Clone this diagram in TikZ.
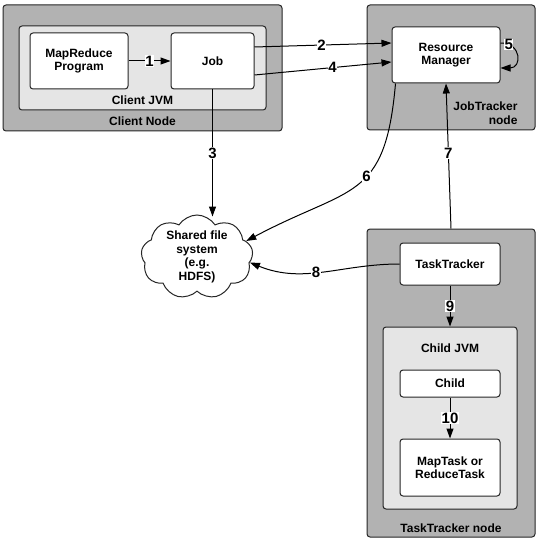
\documentclass[tikz,border=0pt]{standalone}
\usepackage{fontspec}
\setmainfont{Liberation Sans}
\usetikzlibrary{arrows.meta,shapes.symbols}
\begin{document}
\begin{tikzpicture}[x=1pt,y=-1pt,
    font=\fontsize{12}{13.5}\selectfont\bfseries,
    hostbox/.style={draw=black!85, fill=black!30, rounded corners=3pt, line width=1pt},
    jvmbox/.style={draw=black!85, fill=black!10, rounded corners=3pt, line width=1pt},
    procbox/.style={draw=black!85, fill=white, rounded corners=3pt, line width=1pt, align=center},
    arr/.style={-{Triangle[length=10pt,width=7pt]}, line width=1pt},
    num/.style={fill=white, inner sep=0.5pt, font=\fontsize{15}{15}\selectfont\bfseries}]
                \useasboundingbox (0,0) rectangle (540,548);

                % hosts and JVMs
                \node[hostbox, minimum width=279, minimum height=126] (clientnode) at (142.5,68) {};
                \node[jvmbox, minimum width=247, minimum height=84] (clientjvm) at (142.5,68) {};
                \node[hostbox, minimum width=168, minimum height=125] (jtnode) at (451,67.5) {};
                \node[hostbox, minimum width=168, minimum height=308] (ttnode) at (451,383) {};
                \node[jvmbox, minimum width=134, minimum height=182] (childjvm) at (450,418) {};

                \node (clientjvmlbl) at (142.5,100) {Client JVM};
                \node (clientnodelbl) at (142.5,121) {Client Node};
                \node[align=right, anchor=east] (jtnodelbl) at (521,113) {JobTracker\\node};
                \node (childjvmlbl) at (450,348) {Child JVM};
                \node (ttnodelbl) at (451,528) {TaskTracker node};

                % processes
                \node[procbox, minimum width=98, minimum height=56] (mrprog) at (79,61) {MapReduce\\Program};
                \node[procbox, minimum width=83, minimum height=56] (job) at (212.5,61) {Job};
                \node[procbox, minimum width=108, minimum height=56] (rm) at (446,55) {Resource\\Manager};
                \node[procbox, minimum width=100, minimum height=42] (tt) at (450,264) {TaskTracker};
                \node[procbox, minimum width=100, minimum height=27] (child) at (450,383.5) {Child};
                \node[procbox, minimum width=100, minimum height=57] (task) at (450,467.5) {MapTask or\\ReduceTask};

                \node[cloud, draw=black!85, fill=white, line width=1pt, cloud puffs=9, cloud puff arc=115,
                      aspect=1.3, inner sep=-6pt, align=center, minimum width=112, minimum height=84] (hdfs) at (197,257)
                      {Shared file\\system\\(e.g.\\HDFS)};

                % steps
                \draw[arr] (mrprog) -- node[num] {1} (job);
                \draw[arr] ([yshift=14pt]job.east) -- node[num, pos=0.49] {2} ([yshift=12pt]rm.west);
                \draw[arr] (job.south) -- node[num, pos=0.5] {3} ([yshift=-2pt]job.south |- hdfs.north);
                \draw[arr] ([yshift=-14pt]job.east) -- node[num, pos=0.57] {4} ([yshift=-7pt]rm.west);
                \draw[arr] ([yshift=12pt]rm.east) to[out=0, in=0, looseness=2.2] node[num, pos=0.15] {5} ([yshift=-13pt]rm.east);
                \draw[arr] ([xshift=4pt]rm.south west) to[out=-95, in=28, looseness=1.4] node[num, pos=0.42] {6} (hdfs.18);
                \draw[arr] (ttnode.north) -- node[num, pos=0.52] {7} (rm.south);
                \draw[arr] (tt.west) to[out=180, in=-22] node[num, pos=0.55] {8} (hdfs.-6);
                \draw[arr] (tt.south) -- node[num] {9} (childjvm.north);
                \draw[arr] (child.south) -- node[num] {10} (task.north);
            \end{tikzpicture}
\end{document}
